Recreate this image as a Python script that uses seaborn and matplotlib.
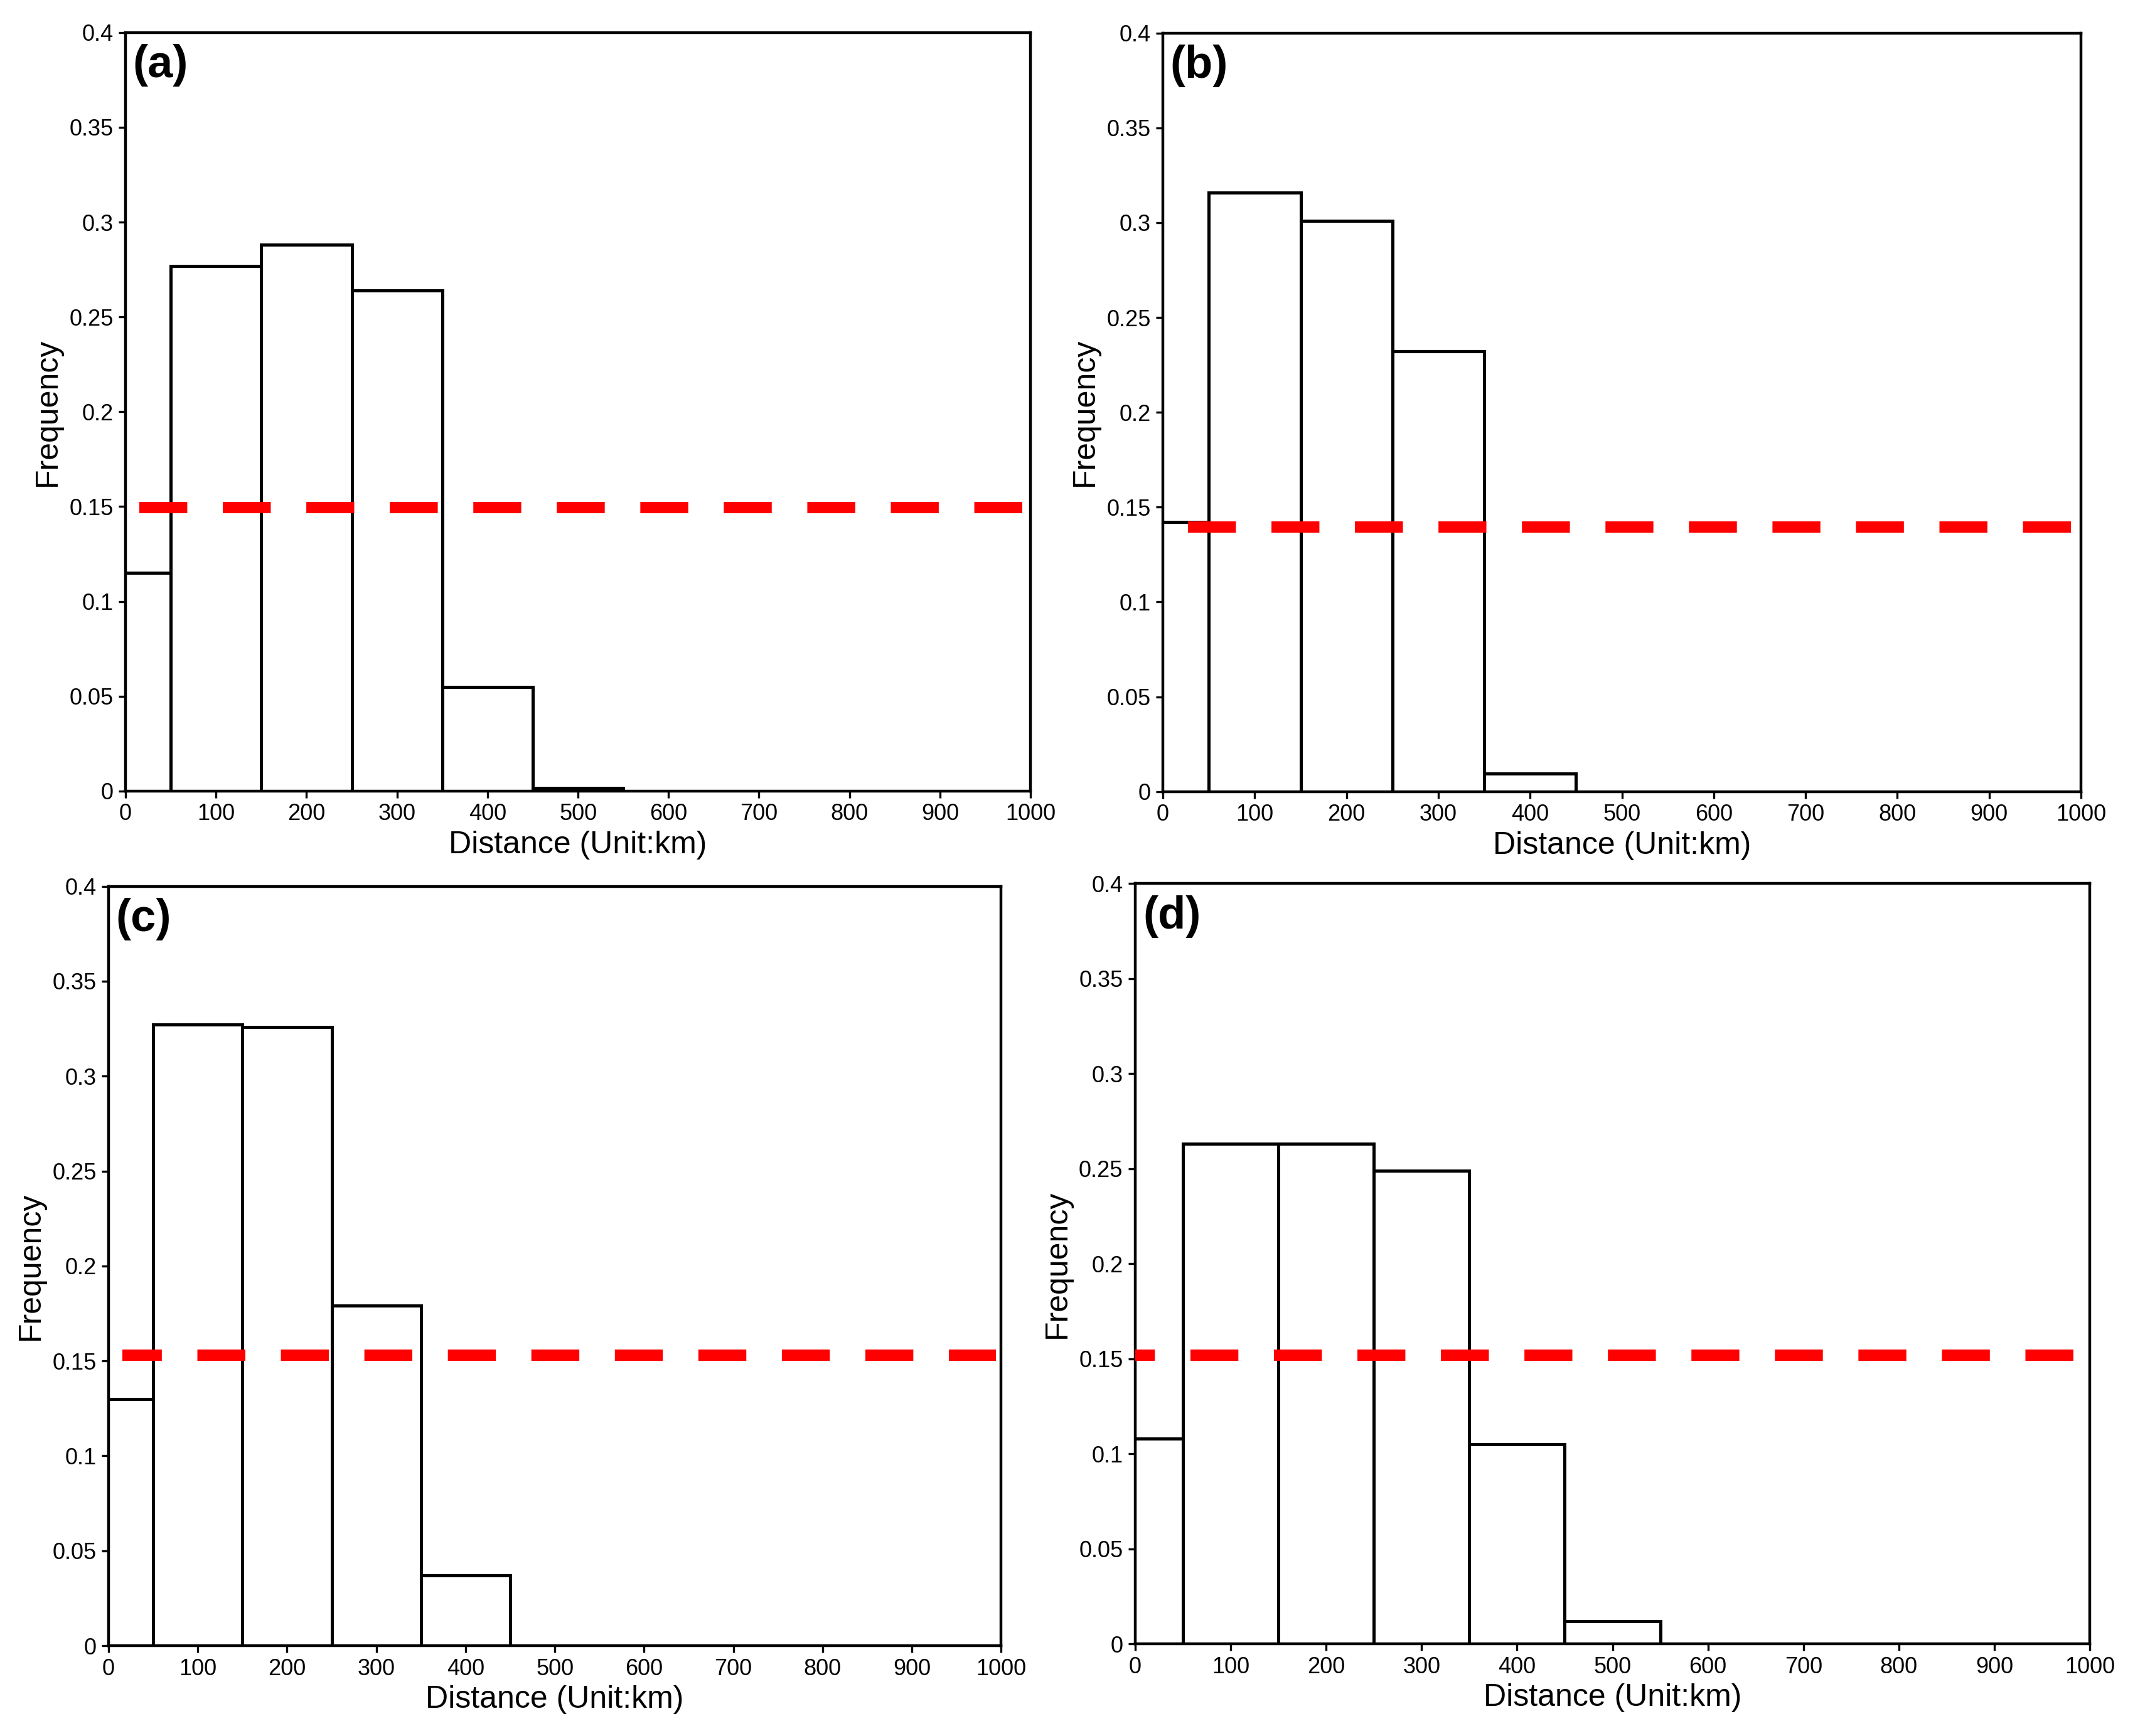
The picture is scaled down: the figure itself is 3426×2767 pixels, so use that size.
import matplotlib
matplotlib.use("Agg")
import matplotlib.pyplot as plt
from matplotlib.ticker import FuncFormatter
import seaborn as sns
import numpy as np
import pandas as pd

# bin centres (km), bins are 100 km wide
distance = [0, 100, 200, 300, 400, 500, 600, 700, 800, 900]

freq_a = [0.115, 0.277, 0.288, 0.264, 0.055, 0.0015, 0, 0, 0, 0]
freq_b = [0.142, 0.316, 0.301, 0.232, 0.0094, 0, 0, 0, 0, 0]
freq_c = [0.130, 0.327, 0.326, 0.179, 0.037, 0, 0, 0, 0, 0]
freq_d = [0.108, 0.263, 0.263, 0.249, 0.105, 0.012, 0, 0, 0, 0]

mean_line = [0.1495, 0.1395, 0.153, 0.1518]
panel_labels = ['(a)', '(b)', '(c)', '(d)']

sns.set_style('ticks')
plt.rcParams['font.family'] = ['Liberation Sans', 'DejaVu Sans']
plt.rcParams['text.color'] = 'black'
plt.rcParams['axes.labelcolor'] = 'black'

fig = plt.figure(figsize=(17.13, 13.835), dpi=200)

rects = [
    [0.0584, 0.5443, 0.4209, 0.4370],
    [0.5409, 0.5440, 0.4270, 0.4370],
    [0.0505, 0.0520, 0.4151, 0.4375],
    [0.5280, 0.0530, 0.4440, 0.4380],
]
# red reference line: x extent (km) and dash offset (in line widths)
line_x = [(15, 991), (27.6, 989), (15.4, 994.6), (0, 984)]
dash_off = [0, 0, 0.75, 2.5]

lw_red = 6.5

for i, freq in enumerate([freq_a, freq_b, freq_c, freq_d]):
    ax = fig.add_axes(rects[i])
    df = pd.DataFrame({'Distance': distance, 'Frequency': freq})
    sns.histplot(data=df, x='Distance', weights='Frequency',
                 binwidth=100, binrange=(-50, 950), stat='count',
                 color='white', edgecolor='black', linewidth=1.8,
                 alpha=1, ax=ax)
    x0, x1 = line_x[i]
    ax.plot([x0, x1], [mean_line[i], mean_line[i]], color='#ff0000',
            linewidth=lw_red,
            linestyle=(dash_off[i], (27.5 / lw_red, 20.4 / lw_red)),
            solid_capstyle='butt', dash_capstyle='butt', zorder=5)

    ax.set_xlim(0, 1000)
    ax.set_ylim(0, 0.4)
    ax.set_xticks(np.arange(0, 1001, 100))
    ax.set_yticks(np.arange(0, 0.401, 0.05))
    ax.yaxis.set_major_formatter(FuncFormatter(lambda v, p: f'{v:g}'))
    ax.tick_params(axis='both', labelsize=13, length=4, width=1.2,
                   direction='out', pad=3, colors='black')
    for s in ax.spines.values():
        s.set_visible(True)
        s.set_linewidth(1.6)
        s.set_color('black')
    ax.set_xlabel('Distance (Unit:km)', fontsize=18, labelpad=3, color='black')
    ax.set_ylabel('Frequency', fontsize=18, labelpad=4, color='black')
    ax.text(0.008, 0.985, panel_labels[i], transform=ax.transAxes,
            fontsize=26, fontweight='bold', ha='left', va='top', color='black')

fig.savefig('out.png', dpi=200, facecolor='white')
